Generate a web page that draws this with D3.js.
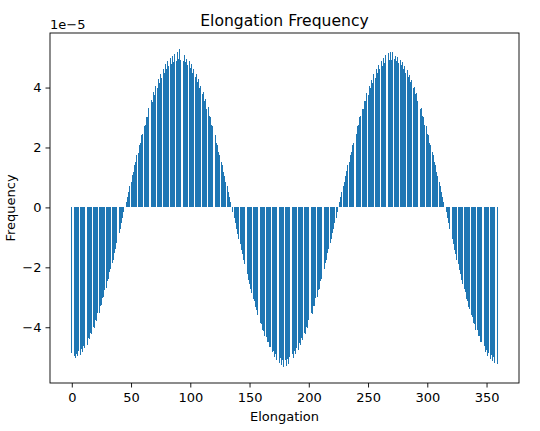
<!DOCTYPE html>
<html lang="en">
<head>
  <meta charset="UTF-8">
  <title>Elongation Frequency</title>
  <script src="https://cdn.jsdelivr.net/npm/d3@7"></script>
  <style type="text/css">
    body { margin: 0; background: white; }
    svg { display: block; }
    text { font-family: "DejaVu Sans", sans-serif; fill: #000; }
  </style>
</head>
<body>
<svg id="chart" width="540" height="431"></svg>
<script>

  // frequency per degree of elongation, in units of 1e-5, one array per quadrant
  const q1 = [-4.86,-5.08,-4.95,-5.02,-4.90,-4.97,-4.80,-4.92,-4.74,-4.83,-4.62,-4.70,-4.51,-4.58,-4.36,-4.40,-4.18,-4.22,-3.98,-4.01,
              -3.77,-3.79,-3.54,-3.52,-3.30,-3.27,-3.03,-2.99,-2.76,-2.69,-2.46,-2.39,-2.16,-2.06,-1.84,-1.74,-1.52,-1.40,-1.19,-1.06,
              -0.85,-0.71,-0.51,-0.36,-0.17,0.00,0.17,0.36,0.51,0.72,0.85,1.07,1.19,1.42,1.52,1.76,1.83,2.09,2.15,2.42,
              2.45,2.73,2.75,3.03,3.02,3.31,3.28,3.58,3.53,3.84,3.75,4.06,3.97,4.27,4.16,4.46,4.32,4.62,4.48,4.78,
              4.61,4.90,4.72,5.00,4.80,5.07,4.86,5.12,4.90,5.18];
  const q2 = [4.95,5.29,4.93,5.05,4.88,5.10,4.84,4.95,4.76,4.90,4.64,4.78,4.50,4.62,4.35,4.46,4.17,4.28,3.98,4.06,
              3.78,3.85,3.55,3.62,3.30,3.34,3.04,3.02,2.75,2.73,2.46,2.40,2.15,2.09,1.84,1.75,1.52,1.42,1.19,1.06,
              0.85,0.72,0.51,0.36,0.17,0.00,-0.17,-0.36,-0.52,-0.72,-0.88,-1.07,-1.22,-1.42,-1.56,-1.77,-1.89,-2.10,-2.22,-2.43,
              -2.54,-2.74,-2.85,-3.05,-3.13,-3.33,-3.41,-3.60,-3.66,-3.86,-3.89,-4.08,-4.11,-4.29,-4.31,-4.48,-4.49,-4.66,-4.65,-4.83,
              -4.78,-4.98,-4.89,-5.10,-4.97,-5.20,-5.04,-5.26,-5.08,-5.33];
  const q3 = [-5.10,-5.28,-5.05,-5.22,-4.98,-5.12,-4.90,-5.02,-4.80,-4.90,-4.68,-4.76,-4.53,-4.60,-4.37,-4.43,-4.18,-4.24,-3.98,-4.03,
              -3.77,-3.80,-3.54,-3.55,-3.30,-3.28,-3.04,-3.00,-2.76,-2.71,-2.47,-2.39,-2.17,-2.06,-1.85,-1.74,-1.53,-1.40,-1.20,-1.06,
              -0.86,-0.71,-0.52,-0.35,-0.17,0.00,0.17,0.35,0.52,0.71,0.86,1.06,1.20,1.40,1.53,1.74,1.85,2.07,2.16,2.40,
              2.46,2.71,2.76,3.01,3.04,3.29,3.30,3.56,3.54,3.81,3.76,4.04,3.97,4.25,4.16,4.44,4.33,4.61,4.48,4.76,
              4.62,4.89,4.73,5.00,4.81,5.08,4.87,5.14,4.91,5.20];
  const q4 = [4.92,5.18,4.94,5.06,4.87,5.02,4.82,4.93,4.74,4.85,4.63,4.73,4.50,4.59,4.35,4.43,4.17,4.25,3.98,4.03,
              3.77,3.82,3.54,3.57,3.30,3.31,3.04,3.02,2.76,2.73,2.46,2.41,2.16,2.08,1.84,1.75,1.52,1.41,1.19,1.06,
              0.85,0.71,0.51,0.36,0.17,0.00,-0.17,-0.36,-0.53,-0.72,-0.88,-1.07,-1.23,-1.42,-1.57,-1.77,-1.90,-2.10,-2.22,-2.43,
              -2.54,-2.74,-2.84,-3.05,-3.13,-3.33,-3.40,-3.60,-3.66,-3.86,-3.89,-4.09,-4.10,-4.30,-4.30,-4.48,-4.48,-4.65,-4.64,-4.81,
              -4.77,-4.95,-4.87,-5.06,-4.94,-5.14,-5.00,-5.19,-5.03,-5.22];

  const frequency = q1.concat(q2, q3, q4);
  const elongation = d3.range(frequency.length);   // 0..359 degrees

  const xTicks = [0, 50, 100, 150, 200, 250, 300, 350];
  const yTicks = [-4, -2, 0, 2, 4];

  const plotL = 50, plotR = 519, plotT = 33, plotB = 383;
  const barW = 0.8;

  // matplotlib style 5% margins
  function pad(lo, hi) { const r = hi - lo; return [lo - 0.05*r, hi + 0.05*r]; }

  const x = d3.scaleLinear()
    .domain(pad(d3.min(elongation) - barW/2, d3.max(elongation) + barW/2))
    .range([plotL, plotR]);
  const y = d3.scaleLinear()
    .domain(pad(d3.min(frequency), d3.max(frequency)))
    .range([plotB, plotT]);

  const svg = d3.select('#chart');

  svg.append('g').attr('shape-rendering', 'crispEdges').selectAll('rect')
    .data(frequency)
    .enter().append('rect')
      .attr('x', (d,i) => x(elongation[i] - barW/2))
      .attr('width', (d,i) => x(elongation[i] + barW/2) - x(elongation[i] - barW/2))
      .attr('y', d => Math.min(y(d), y(0)))
      .attr('height', d => Math.abs(y(d) - y(0)))
      .attr('fill', '#1f77b4');

  const xAxis = svg.append('g')
    .attr('transform', `translate(0,${plotB})`)
    .call(d3.axisBottom(x).tickValues(xTicks).tickSize(4.5).tickPadding(5.5).tickFormat(d3.format('d')));
  const yAxis = svg.append('g')
    .attr('transform', `translate(${plotL},0)`)
    .call(d3.axisLeft(y).tickValues(yTicks).tickSize(4.5).tickPadding(4)
      .tickFormat(d => d < 0 ? '\u2212' + Math.abs(d) : d));

  [xAxis, yAxis].forEach(a => {
    a.select('.domain').remove();
    a.selectAll('text').style('font-size', '13px').style('font-family', '"DejaVu Sans", sans-serif').attr('fill', '#000');
    a.selectAll('line').attr('stroke', '#000').attr('stroke-width', 0.9);
  });

  // frame
  svg.append('rect')
    .attr('x', plotL).attr('y', plotT)
    .attr('width', plotR - plotL).attr('height', plotB - plotT)
    .attr('fill', 'none').attr('stroke', '#000').attr('stroke-width', 0.9);

  svg.append('text')
    .attr('x', (plotL + plotR)/2).attr('y', 26)
    .attr('text-anchor', 'middle').style('font-size', '15.6px')
    .text('Elongation Frequency');

  svg.append('text')
    .attr('x', (plotL + plotR)/2).attr('y', 420.5)
    .attr('text-anchor', 'middle').style('font-size', '13px')
    .text('Elongation');

  svg.append('text')
    .attr('transform', `translate(15,${(plotT + plotB)/2}) rotate(-90)`)
    .attr('text-anchor', 'middle').style('font-size', '13px')
    .text('Frequency');

  svg.append('text')
    .attr('x', plotL).attr('y', 29)
    .style('font-size', '13px')
    .text('1e\u22125');

</script>
</body>
</html>
